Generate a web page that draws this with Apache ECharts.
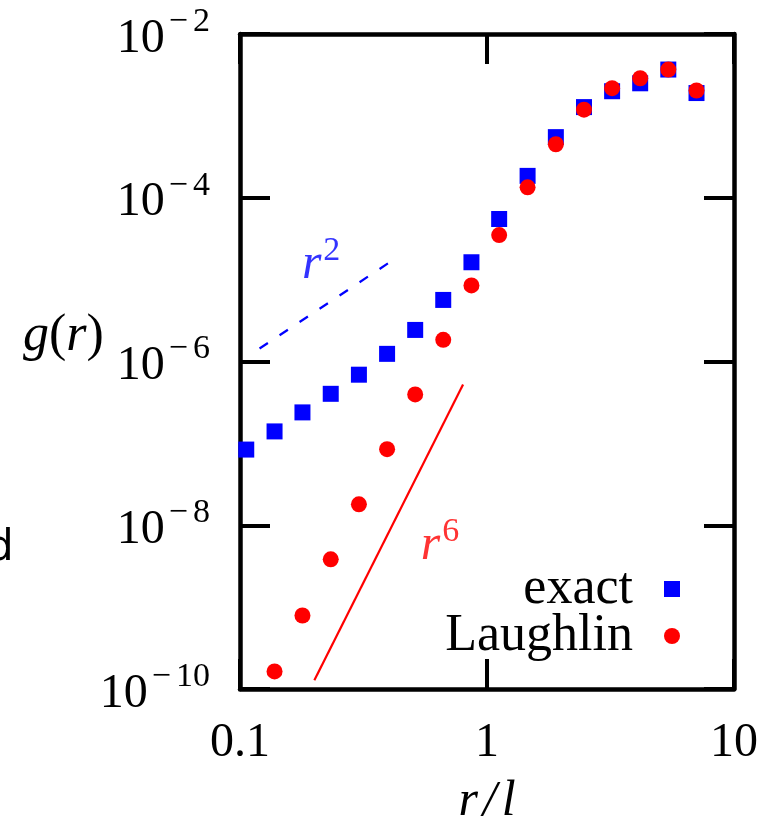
<!DOCTYPE html>
<html>
<head>
<meta charset="utf-8">
<script src="https://cdn.jsdelivr.net/npm/echarts@6/dist/echarts.min.js"></script>
<style>
html,body{margin:0;padding:0;background:#fff;}
#chart{width:771px;height:834px;}
</style>
</head>
<body>
<div id="chart"></div>
<script>
// ---- data ----
var rExact = [0.106, 0.138, 0.179, 0.233, 0.303, 0.394, 0.512, 0.665, 0.865, 1.12, 1.46, 1.90, 2.47, 3.21, 4.17, 5.42, 7.05];
var gExact = [8.4e-8, 1.40e-7, 2.39e-7, 4.03e-7, 6.9e-7, 1.24e-6, 2.43e-6, 5.65e-6, 1.63e-5, 5.5e-5, 1.85e-4, 5.5e-4, 1.28e-3, 2.0e-3, 2.5e-3, 3.68e-3, 1.9e-3];
var rLaughlin = [0.138, 0.179, 0.233, 0.303, 0.394, 0.512, 0.665, 0.865, 1.12, 1.46, 1.90, 2.47, 3.21, 4.17, 5.42, 7.05];
var gLaughlin = [1.64e-10, 7.9e-10, 3.84e-9, 1.8e-8, 8.5e-8, 3.96e-7, 1.84e-6, 8.5e-6, 3.5e-5, 1.34e-4, 4.5e-4, 1.19e-3, 2.18e-3, 2.88e-3, 3.68e-3, 2.04e-3];
var r2R = [0.12, 0.4];
var r2G = [1.44e-6, 1.6e-5];
var r6R = [0.2, 0.8];
var r6G = [1.28e-10, 5.24e-7];
var xTicks = [0.1, 1, 10];
var yExponents = [-10, -8, -6, -4, -2];
var seriesNames = ['exact', 'Laughlin'];

function zip(a, b) { return a.map(function (v, i) { return [v, b[i]]; }); }

var serif = 'Liberation Serif';
var chart = echarts.init(document.getElementById('chart'), null, {renderer: 'canvas'});

var axisCommon = {
  type: 'log',
  logBase: 10,
  axisLine: {show: true, lineStyle: {color: '#000', width: 4.5}},
  axisTick: {show: true, inside: true, length: 30, lineStyle: {color: '#000', width: 4}},
  splitLine: {show: false},
  minorTick: {show: false}
};

function supRich(color) {
  return {
    i: {fontFamily: serif, fontStyle: 'italic', fontSize: 50, lineHeight: 56, color: color, verticalAlign: 'bottom'},
    s: {fontFamily: serif, fontSize: 34, lineHeight: 14, color: color, verticalAlign: 'top', padding: [0, 0, 0, 2]}
  };
}

var option = {
  animation: false,
  backgroundColor: '#fff',
  grid: {left: 240, right: 37, top: 34, bottom: 145, containLabel: false, outerBoundsMode: 'none'},
  xAxis: [
    Object.assign({}, axisCommon, {
      position: 'bottom', min: xTicks[0], max: xTicks[xTicks.length - 1], interval: 1,
      axisLabel: {show: true, margin: 30, color: '#000', fontFamily: serif, fontSize: 48,
        formatter: function (v) { return String(+v.toPrecision(3)); }},
      name: '{i|r}{n|/}{i|l}', nameLocation: 'middle', nameGap: 88,
      nameTextStyle: {rich: {
        i: {fontFamily: serif, fontStyle: 'italic', fontSize: 50, color: '#000'},
        n: {fontFamily: serif, fontStyle: 'italic', fontSize: 50, color: '#000', padding: [0, 5, 0, 5]}
      }}
    }),
    Object.assign({}, axisCommon, {
      position: 'top', min: xTicks[0], max: xTicks[xTicks.length - 1], interval: 1,
      axisLabel: {show: false}
    })
  ],
  yAxis: [
    Object.assign({}, axisCommon, {
      position: 'left', min: Math.pow(10, yExponents[0]), max: Math.pow(10, yExponents[yExponents.length - 1]), interval: 2,
      axisLabel: {show: true, margin: 30, color: '#000', fontFamily: serif,
        formatter: function (v) {
          var e = Math.round(Math.log10(v));
          return '{b|10}{m|\u2212}{s|' + Math.abs(e) + '}';
        },
        rich: {
          b: {fontFamily: serif, fontSize: 48, lineHeight: 58, color: '#000', verticalAlign: 'bottom'},
          m: {fontFamily: serif, fontSize: 34, lineHeight: 18, color: '#000', verticalAlign: 'top', padding: [0, 5, 0, 4]},
          s: {fontFamily: serif, fontSize: 34, lineHeight: 18, color: '#000', verticalAlign: 'top'}
        }
      }
    }),
    Object.assign({}, axisCommon, {
      position: 'right', min: Math.pow(10, yExponents[0]), max: Math.pow(10, yExponents[yExponents.length - 1]), interval: 2,
      axisLabel: {show: false}
    })
  ],
  legend: {
    data: seriesNames,
    orient: 'vertical',
    align: 'right',
    right: 86,
    top: 558,
    itemGap: -5,
    itemWidth: 16,
    itemHeight: 16,
    textStyle: {fontFamily: serif, fontSize: 52, lineHeight: 42, color: '#000', padding: [0, 26, 0, 0]},
    selectedMode: false
  },
  graphic: [
    {type: 'text', left: 23, top: 310,
      style: {text: '{i|g}{n|(}{i|r}{n|)}', rich: {
        i: {fontFamily: serif, fontStyle: 'italic', fontSize: 52, fill: '#000'},
        n: {fontFamily: serif, fontSize: 52, fill: '#000'}
      }}},
    {type: 'text', left: -13, top: 528,
      style: {text: 'd', fontFamily: 'DejaVu Sans', fontSize: 42, fill: '#000'}}
  ],
  series: [
    {name: seriesNames[0], type: 'scatter', symbol: 'rect', symbolSize: 16,
      itemStyle: {color: '#0000ff', opacity: 1}, data: zip(rExact, gExact), z: 3, clip: false},
    {name: seriesNames[1], type: 'scatter', symbol: 'circle', symbolSize: 16,
      itemStyle: {color: '#ff0000', opacity: 1}, data: zip(rLaughlin, gLaughlin), z: 4, clip: false},
    {name: 'r2', type: 'line', data: zip(r2R, r2G), symbol: 'none', z: 2,
      lineStyle: {color: '#0000ff', width: 2.2, type: [10, 14]}},
    {name: 'r6', type: 'line', data: zip(r6R, r6G), symbol: 'none', z: 2,
      lineStyle: {color: '#ff0000', width: 2.2}},
    {name: 'r2label', type: 'scatter', symbol: 'circle', symbolSize: 1, silent: true,
      itemStyle: {color: 'rgba(0,0,0,0)'}, data: [[0.213, 1.63e-5]],
      label: {show: true, position: 'inside', formatter: '{i|r}{s|2}', rich: supRich('#0000ff')}},
    {name: 'r6label', type: 'scatter', symbol: 'circle', symbolSize: 1, silent: true,
      itemStyle: {color: 'rgba(0,0,0,0)'}, data: [[0.645, 6.05e-9]],
      label: {show: true, position: 'inside', formatter: '{i|r}{s|6}', rich: supRich('#ff0000')}}
  ]
};
chart.setOption(option);
</script>
</body>
</html>
